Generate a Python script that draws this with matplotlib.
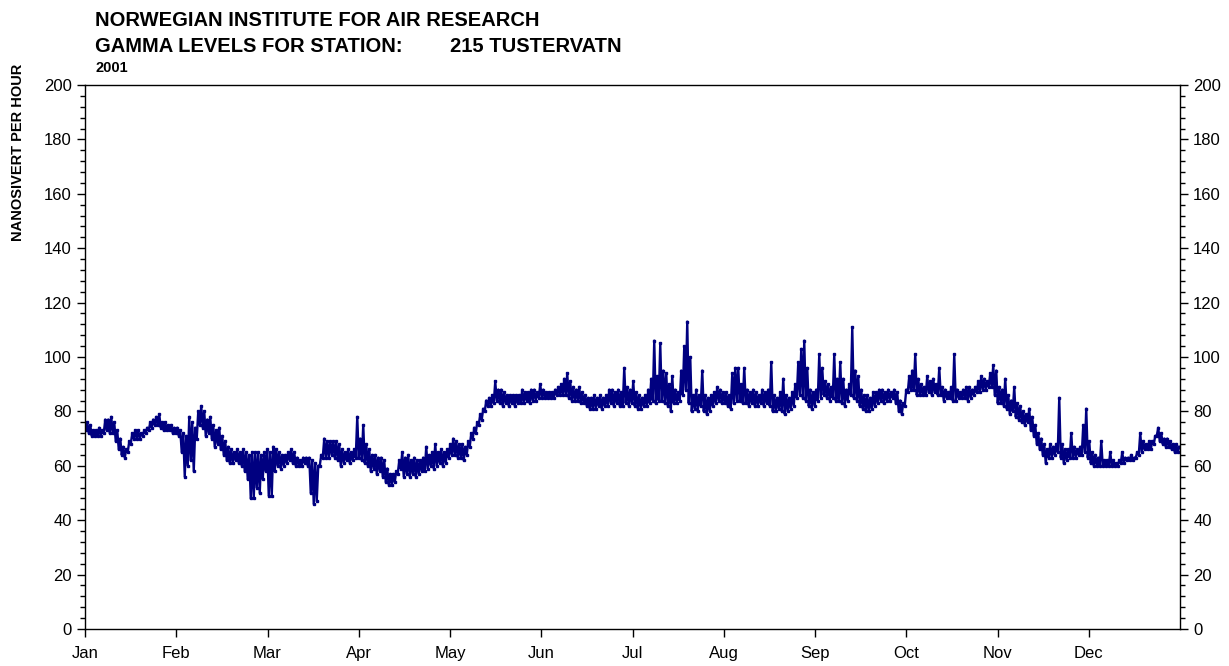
import numpy as np
import matplotlib
matplotlib.use("Agg")
import matplotlib.pyplot as plt
from matplotlib.ticker import MultipleLocator

plt.rcParams['font.family'] = ['Liberation Sans', 'DejaVu Sans']

# Tustervatn 2001 - daily lowest / highest hourly gamma level (nSv/h)
day_min = [
    73, 72, 71, 71, 71, 71, 72, 73, 72, 72,   # 0-9
    69, 66, 64, 63, 65, 68, 70, 70, 70, 71,   # 10-19
    72, 73, 74, 75, 75, 74, 73, 73, 73, 72,   # 20-29
    72, 71, 65, 56, 60, 62, 58, 70, 75, 74,   # 30-39
    71, 72, 70, 67, 68, 66, 64, 62, 61, 61,   # 40-49
    62, 61, 60, 58, 55, 48, 48, 52, 50, 55,   # 50-59
    58, 49, 49, 58, 60, 59, 60, 61, 62, 61,   # 60-69
    60, 60, 60, 61, 60, 50, 46, 47, 60, 63,   # 70-79
    63, 63, 64, 63, 62, 60, 61, 62, 61, 62,   # 80-89
    63, 63, 62, 61, 60, 58, 59, 57, 58, 56,   # 90-99
    54, 53, 53, 54, 57, 59, 56, 57, 56, 57,   # 100-109
    56, 57, 58, 58, 59, 60, 59, 60, 61, 60,   # 110-119
    61, 63, 64, 64, 63, 63, 62, 64, 67, 70,   # 120-129
    72, 75, 77, 80, 82, 82, 83, 84, 83, 82,   # 130-139
    83, 82, 83, 82, 83, 83, 83, 84, 83, 84,   # 140-149
    84, 85, 85, 85, 85, 85, 85, 86, 86, 86,   # 150-159
    86, 85, 84, 84, 84, 83, 83, 82, 81, 81,   # 160-169
    81, 82, 81, 82, 82, 83, 82, 83, 82, 82,   # 170-179
    83, 82, 83, 82, 81, 81, 82, 82, 83, 84,   # 180-189
    83, 84, 84, 83, 82, 80, 83, 83, 84, 86,   # 190-199
    88, 83, 80, 81, 80, 82, 80, 79, 80, 82,   # 200-209
    83, 84, 83, 83, 82, 81, 83, 84, 84, 83,   # 210-219
    83, 82, 83, 82, 82, 83, 82, 83, 82, 80,   # 220-229
    80, 81, 80, 79, 80, 81, 82, 85, 86, 85,   # 230-239
    84, 82, 81, 82, 84, 85, 86, 85, 84, 85,   # 240-249
    84, 84, 83, 82, 84, 86, 85, 84, 82, 81,   # 250-259
    80, 80, 81, 82, 83, 84, 83, 84, 84, 85,   # 260-269
    83, 80, 79, 82, 87, 88, 88, 86, 86, 86,   # 270-279
    86, 87, 86, 87, 86, 86, 84, 85, 85, 84,   # 280-289
    84, 85, 85, 85, 84, 85, 86, 87, 87, 88,   # 290-299
    88, 89, 89, 86, 83, 83, 82, 81, 79, 80,   # 300-309
    78, 77, 76, 75, 76, 73, 71, 68, 66, 64,   # 310-319
    61, 63, 63, 64, 65, 63, 61, 62, 63, 63,   # 320-329
    63, 64, 64, 65, 63, 61, 60, 60, 60, 60,   # 330-339
    60, 60, 60, 60, 60, 61, 61, 62, 62, 62,   # 340-349
    63, 64, 65, 66, 66, 66, 68, 71, 69, 68,   # 350-359
    67, 67, 66, 65, 65,                       # 360-364
]
day_max = [
    76, 75, 73, 73, 74, 73, 77, 77, 78, 76,
    73, 70, 67, 66, 69, 72, 73, 73, 72, 73,
    74, 76, 77, 78, 79, 76, 76, 75, 75, 74,
    74, 73, 72, 71, 78, 76, 74, 80, 82, 80,
    77, 78, 75, 73, 74, 71, 69, 67, 66, 65,
    66, 65, 66, 65, 64, 65, 65, 65, 64, 65,
    66, 65, 67, 66, 65, 64, 64, 65, 66, 65,
    63, 62, 63, 63, 63, 62, 61, 60, 64, 70,
    69, 69, 69, 69, 68, 66, 65, 66, 65, 66,
    78, 70, 75, 68, 66, 64, 64, 63, 63, 62,
    59, 57, 57, 58, 62, 65, 63, 64, 62, 63,
    62, 62, 63, 67, 64, 65, 68, 65, 66, 65,
    66, 68, 70, 69, 68, 68, 67, 69, 72, 74,
    76, 79, 81, 84, 85, 86, 91, 88, 88, 87,
    86, 86, 86, 86, 86, 88, 87, 87, 88, 88,
    87, 90, 88, 87, 87, 87, 88, 89, 90, 92,
    94, 91, 89, 88, 89, 87, 86, 85, 85, 86,
    85, 86, 85, 86, 88, 88, 87, 88, 87, 96,
    89, 88, 91, 87, 86, 85, 86, 88, 92, 106,
    93, 105, 95, 94, 90, 93, 88, 87, 95, 104,
    113, 100, 86, 88, 86, 95, 86, 85, 86, 87,
    89, 88, 87, 87, 86, 94, 96, 96, 90, 96,
    88, 87, 88, 87, 86, 88, 87, 88, 98, 86,
    85, 87, 92, 86, 85, 87, 90, 98, 103, 106,
    96, 88, 87, 88, 101, 96, 91, 90, 89, 101,
    92, 98, 92, 88, 90, 111, 95, 93, 88, 86,
    86, 85, 87, 87, 88, 88, 87, 88, 87, 88,
    87, 84, 83, 88, 93, 95, 101, 92, 90, 89,
    93, 91, 92, 90, 96, 89, 88, 87, 89, 101,
    88, 87, 88, 89, 89, 88, 89, 91, 93, 92,
    91, 94, 97, 95, 89, 88, 92, 86, 84, 89,
    83, 82, 80, 79, 81, 78, 75, 72, 70, 68,
    66, 68, 67, 68, 85, 68, 66, 66, 72, 67,
    66, 67, 75, 81, 69, 65, 64, 63, 69, 62,
    62, 65, 62, 61, 62, 65, 63, 63, 64, 63,
    65, 72, 69, 68, 69, 69, 71, 74, 72, 70,
    70, 69, 68, 68, 67,
]
month_labels = ['Jan', 'Feb', 'Mar', 'Apr', 'May', 'Jun',
                'Jul', 'Aug', 'Sep', 'Oct', 'Nov', 'Dec']

# zigzag min/max within each day to mimic the hourly trace
n = min(len(day_min), len(day_max))
x = np.empty(2 * n)
y = np.empty(2 * n)
x[0::2] = np.arange(n) + 0.25
x[1::2] = np.arange(n) + 0.75
y[0::2] = day_min[:n]
y[1::2] = day_max[:n]

fig = plt.figure(figsize=(12.29, 6.66), dpi=100)
ax = fig.add_axes([85 / 1229, 1 - 629 / 666, 1095 / 1229, 544 / 666])

ax.plot(x, y, color='#000080', lw=1.7, marker='s', ms=1.6, mec='#000080')

ax.set_xlim(0, 365)
ax.set_ylim(0, 200)
ax.yaxis.set_major_locator(MultipleLocator(20))
ax.yaxis.set_minor_locator(MultipleLocator(4))
ax.set_xticks(np.arange(12) * 365 / 12)
ax.set_xticklabels(month_labels)

ax.tick_params(axis='y', which='both', left=True, right=True,
               labelleft=True, labelright=True, direction='out', labelsize=12)
ax.tick_params(axis='y', which='major', length=6, width=1)
ax.tick_params(axis='y', which='minor', length=3.5, width=1)
ax.tick_params(axis='x', which='major', length=6, width=1, labelsize=12, pad=6)
for s in ax.spines.values():
    s.set_linewidth(1)

fig.text(95 / 1229, 1 - 20 / 666, 'NORWEGIAN INSTITUTE FOR AIR RESEARCH',
         fontsize=14.5, fontweight='bold', va='center')
fig.text(95 / 1229, 1 - 46 / 666, 'GAMMA LEVELS FOR STATION:',
         fontsize=14.5, fontweight='bold', va='center')
fig.text(450 / 1229, 1 - 46 / 666, '215 TUSTERVATN',
         fontsize=14.5, fontweight='bold', va='center')
fig.text(95 / 1229, 1 - 68 / 666, '2001',
         fontsize=10.5, fontweight='bold', va='center')
fig.text(18 / 1229, 1 - 152 / 666, 'NANOSIVERT PER HOUR', rotation=90,
         fontsize=10.5, fontweight='bold', va='center', ha='center')

fig.savefig('out.png', dpi=100)
